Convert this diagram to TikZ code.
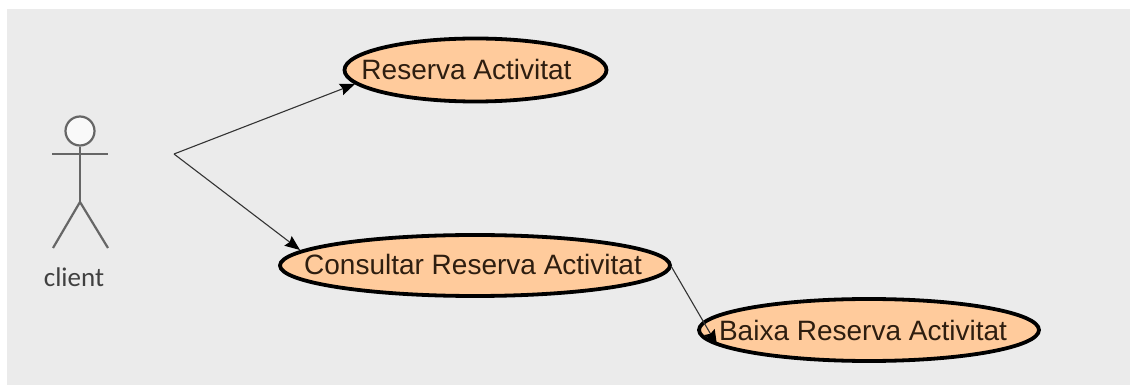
\documentclass[tikz,border=0pt]{standalone}
\usepackage{fontspec}
\setmainfont{Liberation Sans}
\newfontfamily\clientfont{Carlito}
\usetikzlibrary{shapes.geometric,arrows.meta}
\definecolor{panel}{HTML}{EBEBEB}
\definecolor{usecasefill}{HTML}{FFCB9C}
\definecolor{actorline}{HTML}{666666}
\definecolor{linkline}{HTML}{333333}
\definecolor{labeltext}{HTML}{2E1E10}
\tikzset{
  usecase/.style={ellipse,draw=black,line width=3.8pt,fill=usecasefill,inner sep=0pt},
  usecasetext/.style={inner sep=0pt,text=labeltext,font=\fontsize{28}{32}\selectfont},
  link/.style={draw=linkline,line width=1.1pt,-{Stealth[length=15pt,width=12pt,inset=2pt,color=black]}},
  actor/.style={draw=actorline,line width=2.2pt}
}
\begin{document}
\begin{tikzpicture}[x=1pt,y=-1pt]
\useasboundingbox (0,0) rectangle (1130,387);
\fill[white] (0,0) rectangle (1130,387);
\fill[panel] (7,9) rectangle (1130,385);
% use cases
\node[usecase,minimum width=262pt,minimum height=63pt,label={[usecasetext,name=reservaText,xshift=-9pt,yshift=1pt]center:Reserva Activitat}] (reserva) at (475.5,70) {};
\node[usecase,minimum width=390pt,minimum height=61pt,label={[usecasetext,name=consultarText,xshift=-2pt,yshift=1pt]center:Consultar Reserva Activitat}] (consultar) at (475,265.5) {};
\node[usecase,minimum width=340pt,minimum height=62pt,label={[usecasetext,name=baixaText,xshift=-6pt]center:Baixa Reserva Activitat}] (baixa) at (869,330) {};
% actor
\node[circle,draw=actorline,line width=2.2pt,fill=white!70!panel,minimum size=29pt,inner sep=0pt] (head) at (80,131) {};
\coordinate (hip) at (80,202);
\coordinate (armL) at (52,154);
\coordinate (armR) at (108,154);
\coordinate (legL) at (53,248);
\coordinate (legR) at (108,248);
\draw[actor] (head.south) -- (hip);
\draw[actor] (armL) -- (armR);
\draw[actor] (legL) -- (hip) -- (legR);
\node[text=black!75,font=\clientfont\fontsize{27}{30}\selectfont] (client) at (74,277) {client};
% connectors
\coordinate (origin) at (174,154);
\coordinate (reservaEnd) at (355,84);
\coordinate (consultarEnd) at (300,250);
\coordinate (consultarExit) at (671,266);
\coordinate (baixaEnd) at (717,345);
\draw[link] (origin) -- (reservaEnd);
\draw[link] (origin) -- (consultarEnd);
\draw[link] (consultarExit) -- (baixaEnd);
\end{tikzpicture}
\end{document}
